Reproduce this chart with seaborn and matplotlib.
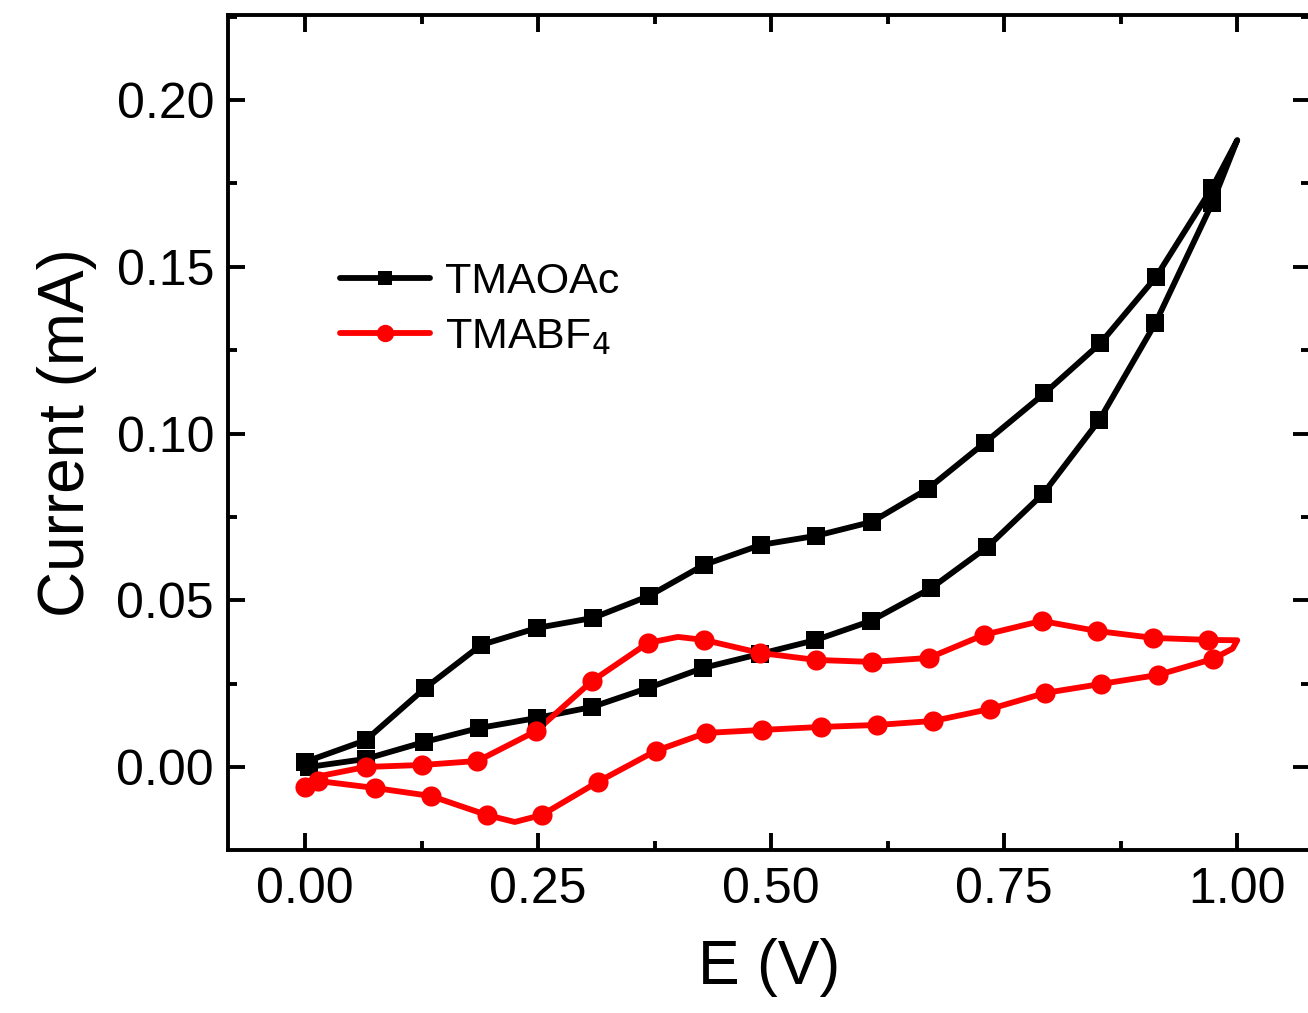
import numpy as np
import pandas as pd
import matplotlib
matplotlib.use("Agg")
import matplotlib.pyplot as plt
from matplotlib.lines import Line2D
from matplotlib.ticker import MultipleLocator, FormatStrFormatter
import seaborn as sns

sns.set_theme(style="white")
plt.rcParams['font.family'] = ['Liberation Sans', 'DejaVu Sans']
plt.rcParams['text.color'] = 'black'
plt.rcParams['axes.labelcolor'] = 'black'
plt.rcParams['xtick.color'] = 'black'
plt.rcParams['ytick.color'] = 'black'

# ---- data ----
# TMAOAc (black): closed CV loop; mark flag = 1 where a square marker is drawn
oac_E = [0.000, 0.065, 0.129, 0.189, 0.249, 0.309, 0.369, 0.428, 0.489, 0.548,
         0.608, 0.668, 0.729, 0.793, 0.853, 0.913, 0.973, 1.000,
         0.973, 0.912, 0.852, 0.792, 0.732, 0.672, 0.607, 0.547, 0.488,
         0.427, 0.368, 0.308, 0.249, 0.187, 0.128, 0.065, 0.004]
oac_I = [0.0015, 0.0080, 0.0237, 0.0366, 0.0417, 0.0447, 0.0513, 0.0606, 0.0666, 0.0693,
         0.0735, 0.0834, 0.0972, 0.1120, 0.1270, 0.1470, 0.1737, 0.1880,
         0.1690, 0.1330, 0.1040, 0.0820, 0.0660, 0.0537, 0.0438, 0.0380, 0.0339,
         0.0297, 0.0237, 0.0180, 0.0147, 0.0117, 0.0075, 0.0024, 0.0000]
oac_mark = [1, 1, 1, 1, 1, 1, 1, 1, 1, 1,
            1, 1, 1, 1, 1, 1, 1, 0,
            1, 1, 1, 1, 1, 1, 1, 1, 1,
            1, 1, 1, 1, 1, 1, 1, 1]

# TMABF4 (red): closed CV loop; mark flag = 1 where a circle marker is drawn
bf4_E = [0.000, 0.020, 0.065, 0.126, 0.185, 0.248, 0.308, 0.368, 0.400, 0.428, 0.488,
         0.548, 0.608, 0.669, 0.728, 0.790, 0.849, 0.910, 0.969, 1.000, 0.995,
         0.974, 0.915, 0.854, 0.794, 0.735, 0.674, 0.614, 0.553, 0.490, 0.430,
         0.376, 0.314, 0.254, 0.225, 0.195, 0.135, 0.075, 0.014, 0.000]
bf4_I = [-0.0060, -0.0025, 0.0000, 0.0006, 0.0018, 0.0108, 0.0258, 0.0372, 0.0390, 0.0381, 0.0342,
         0.0321, 0.0315, 0.0327, 0.0396, 0.0438, 0.0408, 0.0387, 0.0381, 0.0380, 0.0355,
         0.0324, 0.0276, 0.0249, 0.0222, 0.0174, 0.0138, 0.0126, 0.0120, 0.0111, 0.0102,
         0.0048, -0.0045, -0.0144, -0.0165, -0.0144, -0.0087, -0.0063, -0.0042, -0.0060]
bf4_mark = [1, 0, 1, 1, 1, 1, 1, 1, 0, 1, 1,
            1, 1, 1, 1, 1, 1, 1, 1, 0, 0,
            1, 1, 1, 1, 1, 1, 1, 1, 1, 1,
            1, 1, 1, 0, 1, 1, 1, 1, 0]

series_names = ["TMAOAc", "TMABF$_4$"]
colors = ["#000000", "#ff0000"]
markers = ["s", "o"]

x_ticks = [0.00, 0.25, 0.50, 0.75, 1.00]
y_ticks = [0.00, 0.05, 0.10, 0.15, 0.20]

# ---- figure ----
W, H = 1308, 1013
fig = plt.figure(figsize=(W / 100, H / 100), dpi=100)
ax = fig.add_axes([228 / W, (H - 850) / H, (1310 - 228) / W, (850 - 15) / H])

dfs = [
    pd.DataFrame({"E": oac_E, "I": oac_I, "mark": oac_mark}),
    pd.DataFrame({"E": bf4_E, "I": bf4_I, "mark": bf4_mark}),
]
for df, c, m in zip(dfs, colors, markers):
    sns.lineplot(data=df, x="E", y="I", sort=False, estimator=None,
                 color=c, linewidth=4.2, ax=ax)
    ms = 170 if m == "s" else 210
    sns.scatterplot(data=df[df["mark"] == 1], x="E", y="I", color=c, marker=m,
                    s=ms, linewidth=0, ax=ax, zorder=3)

ax.set_xlim(-0.0826, 1.078)
ax.set_ylim(-0.0249, 0.2255)
ax.set_xticks(x_ticks)
ax.set_yticks(y_ticks)
ax.xaxis.set_minor_locator(MultipleLocator(0.125))
ax.yaxis.set_minor_locator(MultipleLocator(0.025))
ax.xaxis.set_major_formatter(FormatStrFormatter("%.2f"))
ax.yaxis.set_major_formatter(FormatStrFormatter("%.2f"))
ax.tick_params(which="both", direction="in", top=True, right=True,
               bottom=True, left=True, width=2.8, colors="black")
ax.tick_params(which="major", length=12, labelsize=36, pad=12)
ax.tick_params(axis="y", which="major", pad=10)
ax.tick_params(which="minor", length=6.5)
for s in ax.spines.values():
    s.set_linewidth(2.8)
    s.set_color("black")

ax.set_xlabel("E (V)", fontsize=45, labelpad=18)
ax.set_ylabel("Current (mA)", fontsize=46, labelpad=14)

handles = [Line2D([], [], color=c, marker=m, lw=4.2,
                  markersize=(10.5 if m == "s" else 12.5), markeredgewidth=0)
           for c, m in zip(colors, markers)]
ax.legend(handles, series_names, loc="upper left",
          bbox_to_anchor=((340 - 228) / (1310 - 228), 1 - (262 - 15) / (850 - 15)),
          frameon=False, fontsize=31, handlelength=2.1, handletextpad=0.35,
          labelspacing=0.35, borderaxespad=0, borderpad=0)

fig.savefig("out.png", dpi=100)
